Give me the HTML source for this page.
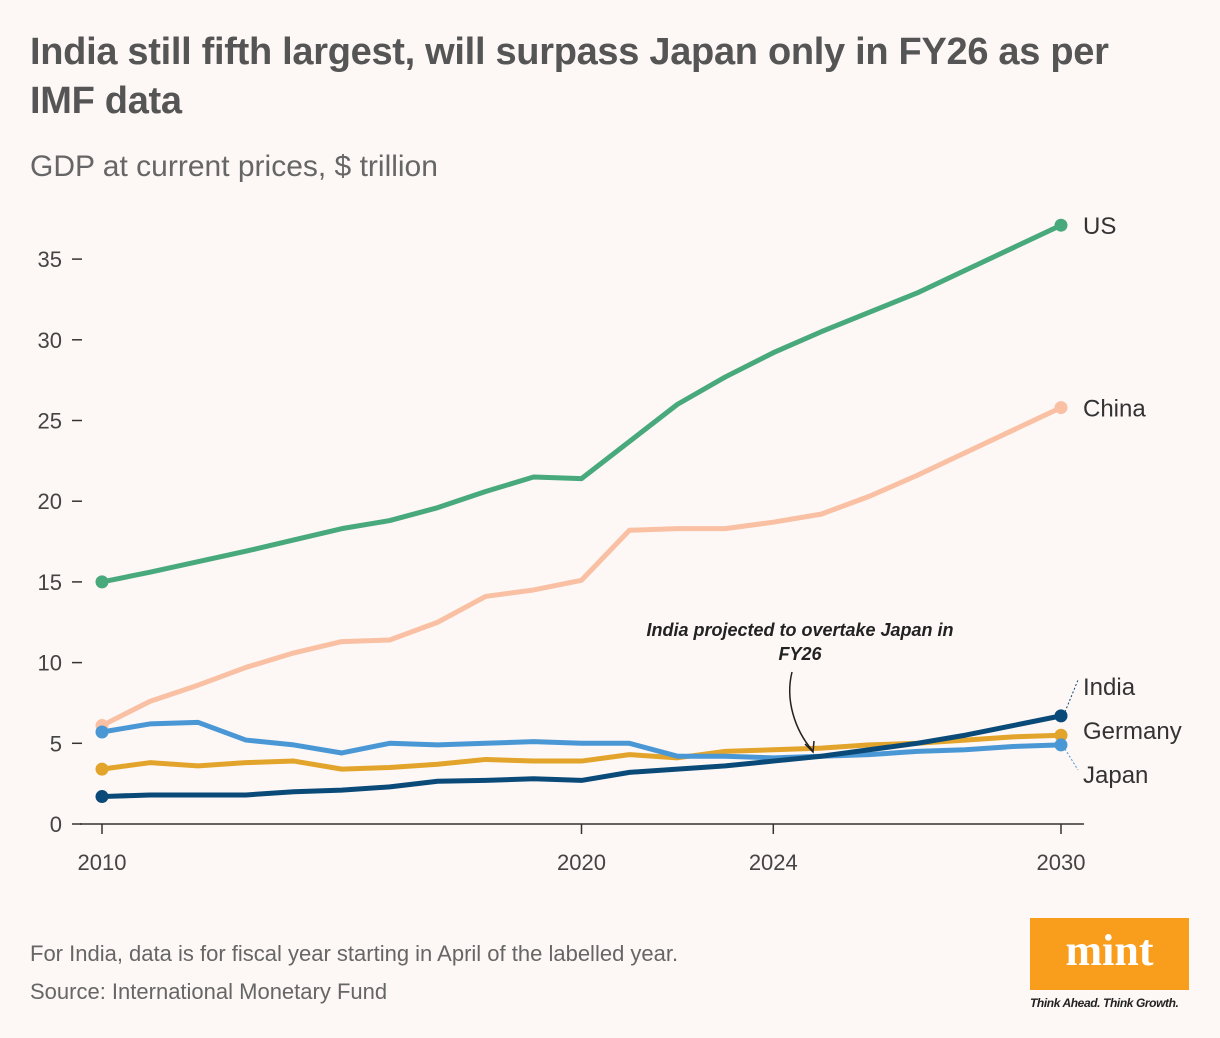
<!DOCTYPE html>
<html><head><meta charset="utf-8"><style>
body{margin:0;width:1220px;height:1038px;background:#fdf7f5;font-family:"Liberation Sans",sans-serif;overflow:hidden;position:relative}
.t{position:absolute;left:30px;top:28px;font-size:38px;font-weight:bold;color:#555;line-height:49px;letter-spacing:-0.3px;width:1170px}
.s{position:absolute;left:30px;top:150px;font-size:30px;color:#666}
.f{position:absolute;left:30px;font-size:22px;color:#666}
</style></head><body>
<div class="t">India still fifth largest, will surpass Japan only in FY26 as per<br>IMF data</div>
<div class="s">GDP at current prices, $ trillion</div>
<div class="f" style="top:941px">For India, data is for fiscal year starting in April of the labelled year.</div>
<div class="f" style="top:979px">Source: International Monetary Fund</div>
<div style="position:absolute;left:1030px;top:918px;width:159px;height:72px;background:#f99d1c;color:#fff;font-family:'Liberation Serif',serif;font-weight:bold;font-size:44px;text-align:center;line-height:66px">mint</div>
<div style="position:absolute;left:1030px;top:996px;font-size:12px;font-style:italic;font-weight:bold;color:#222;letter-spacing:-0.4px">Think Ahead. Think Growth.</div>
<svg id="c" width="1220" height="1038" style="position:absolute;left:0;top:0"></svg>
<script>
const years=[2010,2011,2012,2013,2014,2015,2016,2017,2018,2019,2020,2021,2022,2023,2024,2025,2026,2027,2028,2029,2030];
const us=[15.0,15.6,16.25,16.9,17.6,18.3,18.8,19.6,20.6,21.5,21.4,23.7,26.0,27.7,29.2,30.5,31.7,32.9,34.3,35.7,37.1];
const china=[6.1,7.6,8.6,9.7,10.6,11.3,11.4,12.5,14.1,14.5,15.1,18.2,18.3,18.3,18.7,19.2,20.3,21.6,23.0,24.4,25.8];
const japan=[5.7,6.2,6.3,5.2,4.9,4.4,5.0,4.9,5.0,5.1,5.0,5.0,4.2,4.2,4.1,4.2,4.3,4.5,4.6,4.8,4.9];
const germany=[3.4,3.8,3.6,3.8,3.9,3.4,3.5,3.7,4.0,3.9,3.9,4.3,4.1,4.5,4.6,4.7,4.9,5.0,5.2,5.4,5.5];
const india=[1.7,1.8,1.8,1.8,2.0,2.1,2.3,2.65,2.7,2.8,2.7,3.2,3.4,3.6,3.9,4.2,4.6,5.0,5.5,6.1,6.7];
const yTicks=[0,5,10,15,20,25,30,35];
const xTicks=[2010,2020,2024,2030];
const X=y=>102+(y-2010)*47.95, Y=v=>824-v*16.14;
const svg=document.getElementById('c'),NS='http://www.w3.org/2000/svg';
function mk(t,a,p){const e=document.createElementNS(NS,t);for(const k in a)e.setAttribute(k,a[k]);(p||svg).appendChild(e);return e;}
let e=mk('line',{x1:80,x2:1084,y1:824,y2:824,stroke:'#333','stroke-width':1.5});


yTicks.forEach(v=>{
 let l=mk('line',{x1:72,x2:82,y1:Y(v),y2:Y(v),stroke:'#333','stroke-width':1.5});
 
 
 let t=mk('text',{x:62,y:Y(v)+8,'text-anchor':'end','font-size':22,fill:'#444'});t.textContent=v;
 
 
});
xTicks.forEach(v=>{
 let l=mk('line',{x1:X(v),x2:X(v),y1:824,y2:834,stroke:'#333','stroke-width':1.5});
 
 
 let t=mk('text',{x:X(v),y:870,'text-anchor':'middle','font-size':22,fill:'#444'});t.textContent=v;
 
 
});
const series=[['us',us,'#48a97c'],['china',china,'#f9c0a3'],['germany',germany,'#e2a42b'],['japan',japan,'#4a97d6'],['india',india,'#0a4a78']];
series.forEach(([n,d,c])=>{
 let p=mk('polyline',{points:d.map((v,i)=>X(years[i])+','+Y(v)).join(' '),fill:'none',stroke:c,'stroke-width':5,'stroke-linejoin':'round'});
 
 
 [0,d.length-1].forEach(i=>{let ci=mk('circle',{cx:X(years[i]),cy:Y(d[i]),r:6.5,fill:c});
 
 });
});
const lab=[['US',Y(us[20])+9],['China',Y(china[20])+9],['India',695],['Germany',739],['Japan',783]];
lab.forEach(([s,y])=>{let t=mk('text',{x:1083,y:y,'font-size':24,fill:'#333'});t.textContent=s;
 
 });
let d1=mk('path',{d:`M${X(2030)+4} ${Y(india[20])-4} L1078 680`,stroke:'#0a4a78','stroke-dasharray':'2,2',fill:'none'});


let d2=mk('path',{d:`M${X(2030)+4} ${Y(japan[20])+4} L1078 770`,stroke:'#4a97d6','stroke-dasharray':'2,2',fill:'none'});


let a1=mk('text',{x:800,y:636,'text-anchor':'middle','font-size':18,'font-weight':'bold','font-style':'italic',fill:'#222'});a1.textContent='India projected to overtake Japan in';


let a2=mk('text',{x:800,y:660,'text-anchor':'middle','font-size':18,'font-weight':'bold','font-style':'italic',fill:'#222'});a2.textContent='FY26';


let ar=mk('path',{d:'M792 672 C785 700,795 730,812 750',stroke:'#222','stroke-width':1.5,fill:'none'});


let ah=mk('path',{d:'M805 744 L813 752 L814 741',stroke:'#222','stroke-width':1.5,fill:'none'});


</script>
</body></html>
